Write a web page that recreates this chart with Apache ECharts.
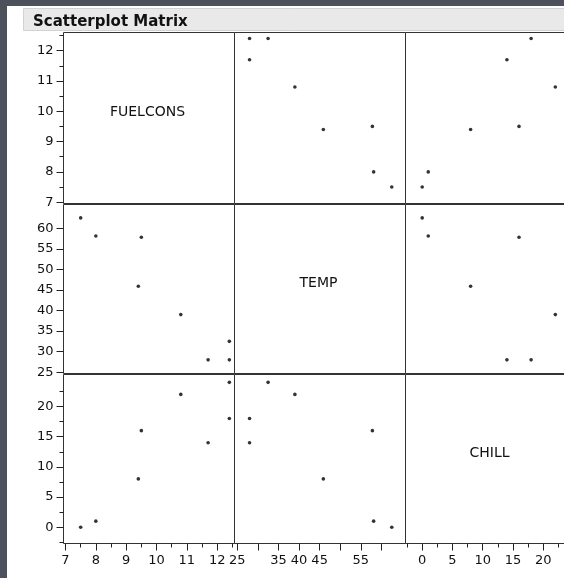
<!DOCTYPE html>
<html>
<head>
<meta charset="utf-8">
<script src="https://cdn.jsdelivr.net/npm/echarts@6/dist/echarts.min.js"></script>
<style>
  html, body { margin: 0; padding: 0; background: #4d515c; }
  #chart { width: 564px; height: 578px; }
</style>
</head>
<body>
<div id="chart"></div>
<script>
// Heating-oil data: fuel consumption, temperature and wind chill for 8 periods
const variables = ['FUELCONS', 'TEMP', 'CHILL'];
const fuelcons = [12.4, 12.4, 11.7, 10.8, 9.4, 9.5, 8.0, 7.5];
const temp     = [28.0, 32.5, 28.0, 39.0, 45.9, 57.8, 58.1, 62.5];
const chill    = [18, 24, 14, 22, 8, 16, 1, 0];

// Tick marks and labels for each variable
const fuelTicks  = [7, 8, 9, 10, 11, 12];
const fuelMinor  = [7.5, 8.5, 9.5, 10.5, 11.5, 12.5];
const tempTicks  = [25, 30, 35, 40, 45, 50, 55, 60];
const tempYLabels = [25, 30, 35, 40, 45, 50, 55, 60];
const tempXLabels = [25, 35, 40, 45, 55];
const chillTicks = [0, 5, 10, 15, 20];
const chillMinor = [-2.5, 2.5, 7.5, 12.5, 17.5, 22.5];

// Axis extents when a variable is on the horizontal / vertical axis
const fuelXRange  = [6.934, 12.57];
const fuelYRange  = [6.957, 12.597];
const tempXRange  = [24.35, 65.83];
const tempYRange  = [24.68, 65.76];
const chillXRange = [-2.76, 25.5];
const chillYRange = [-2.70, 25.30];

const values = [fuelcons, temp, chill];
const xRanges = [fuelXRange, tempXRange, chillXRange];
const yRanges = [fuelYRange, tempYRange, chillYRange];
const majorTicks = [fuelTicks, tempTicks, chillTicks];
const minorTicks = [fuelMinor, null, chillMinor];
const xLabels = [fuelTicks, tempXLabels, chillTicks];
const yLabels = [fuelTicks, tempYLabels, chillTicks];

// Panel layout (half-pixel offsets keep the 1px frames crisp)
const colLeft = [63.5, 234.5, 405.5];
const colWidth = 171;
const rowTop = [32.5, 204.5, 374.5];
const rowHeight = [171, 169, 169];

const FONT = 'DejaVu Sans';
const tickColor = '#222222';

const grids = [], xAxes = [], yAxes = [], series = [], graphics = [];

// window background and title strip
graphics.push({
  type: 'rect', silent: true, z: -10,
  shape: { x: 7, y: 6, width: 600, height: 600 },
  style: { fill: '#ffffff' }
});
graphics.push({
  type: 'rect', silent: true, z: -9,
  shape: { x: 23.5, y: 8.5, width: 560, height: 22 },
  style: { fill: '#e9e9e9', stroke: '#d2d2d2', lineWidth: 1 }
});

for (let r = 0; r < 3; r++) {
  for (let c = 0; c < 3; c++) {
    const g = grids.length;
    grids.push({
      left: colLeft[c], top: rowTop[r], width: colWidth, height: rowHeight[r],
      show: true, backgroundColor: '#ffffff',
      borderColor: '#333333', borderWidth: 1,
      containLabel: false, outerBoundsMode: 'none'
    });
    const isBottom = r === 2;
    const isLeft = c === 0;

    const xi = xAxes.length;
    xAxes.push({
      type: 'value', gridIndex: g, position: 'bottom',
      min: xRanges[c][0], max: xRanges[c][1],
      axisLine: { show: false, onZero: false },
      splitLine: { show: false },
      axisTick: { show: isBottom, length: 7, customValues: majorTicks[c],
                  lineStyle: { color: tickColor, width: 1 } },
      axisLabel: { show: isBottom, customValues: xLabels[c], margin: 11,
                   color: '#111', fontFamily: FONT, fontSize: 13 }
    });
    if (isBottom && minorTicks[c]) {
      xAxes.push({
        type: 'value', gridIndex: g, position: 'bottom',
        min: xRanges[c][0], max: xRanges[c][1],
        axisLine: { show: false, onZero: false },
        splitLine: { show: false },
        axisTick: { show: true, length: 4, customValues: minorTicks[c],
                    lineStyle: { color: tickColor, width: 1 } },
        axisLabel: { show: false }
      });
    }

    const yi = yAxes.length;
    yAxes.push({
      type: 'value', gridIndex: g, position: 'left',
      min: yRanges[r][0], max: yRanges[r][1],
      axisLine: { show: false, onZero: false },
      splitLine: { show: false },
      axisTick: { show: isLeft, length: 7, customValues: majorTicks[r],
                  lineStyle: { color: tickColor, width: 1 } },
      axisLabel: { show: isLeft, customValues: yLabels[r], margin: 10,
                   color: '#111', fontFamily: FONT, fontSize: 13 }
    });
    if (isLeft && minorTicks[r]) {
      yAxes.push({
        type: 'value', gridIndex: g, position: 'left',
        min: yRanges[r][0], max: yRanges[r][1],
        axisLine: { show: false, onZero: false },
        splitLine: { show: false },
        axisTick: { show: true, length: 4, customValues: minorTicks[r],
                    lineStyle: { color: tickColor, width: 1 } },
        axisLabel: { show: false }
      });
    }

    if (r === c) {
      // variable name on the diagonal
      graphics.push({
        type: 'text', silent: true, z: 10,
        x: colLeft[c] + colWidth / 2 - 1.5,
        y: rowTop[r] + rowHeight[r] / 2 - 6,
        style: { text: variables[r], fill: '#111', font: '14px "' + FONT + '"',
                 textAlign: 'center', textVerticalAlign: 'middle' }
      });
    } else {
      series.push({
        type: 'scatter', xAxisIndex: xi, yAxisIndex: yi,
        symbol: 'circle', symbolSize: 3.6,
        itemStyle: { color: '#000' },
        silent: true,
        data: values[c].map((v, i) => [v, values[r][i]])
      });
    }
  }
}

const chart = echarts.init(document.getElementById('chart'), null, { renderer: 'canvas' });
chart.setOption({
  animation: false,
  backgroundColor: '#4d515c',
  title: {
    text: 'Scatterplot Matrix', left: 28, top: 10,
    textStyle: { fontFamily: FONT, fontWeight: 'bold', fontSize: 15, color: '#111' }
  },
  grid: grids,
  xAxis: xAxes,
  yAxis: yAxes,
  series: series,
  graphic: graphics
});
</script>
</body>
</html>
